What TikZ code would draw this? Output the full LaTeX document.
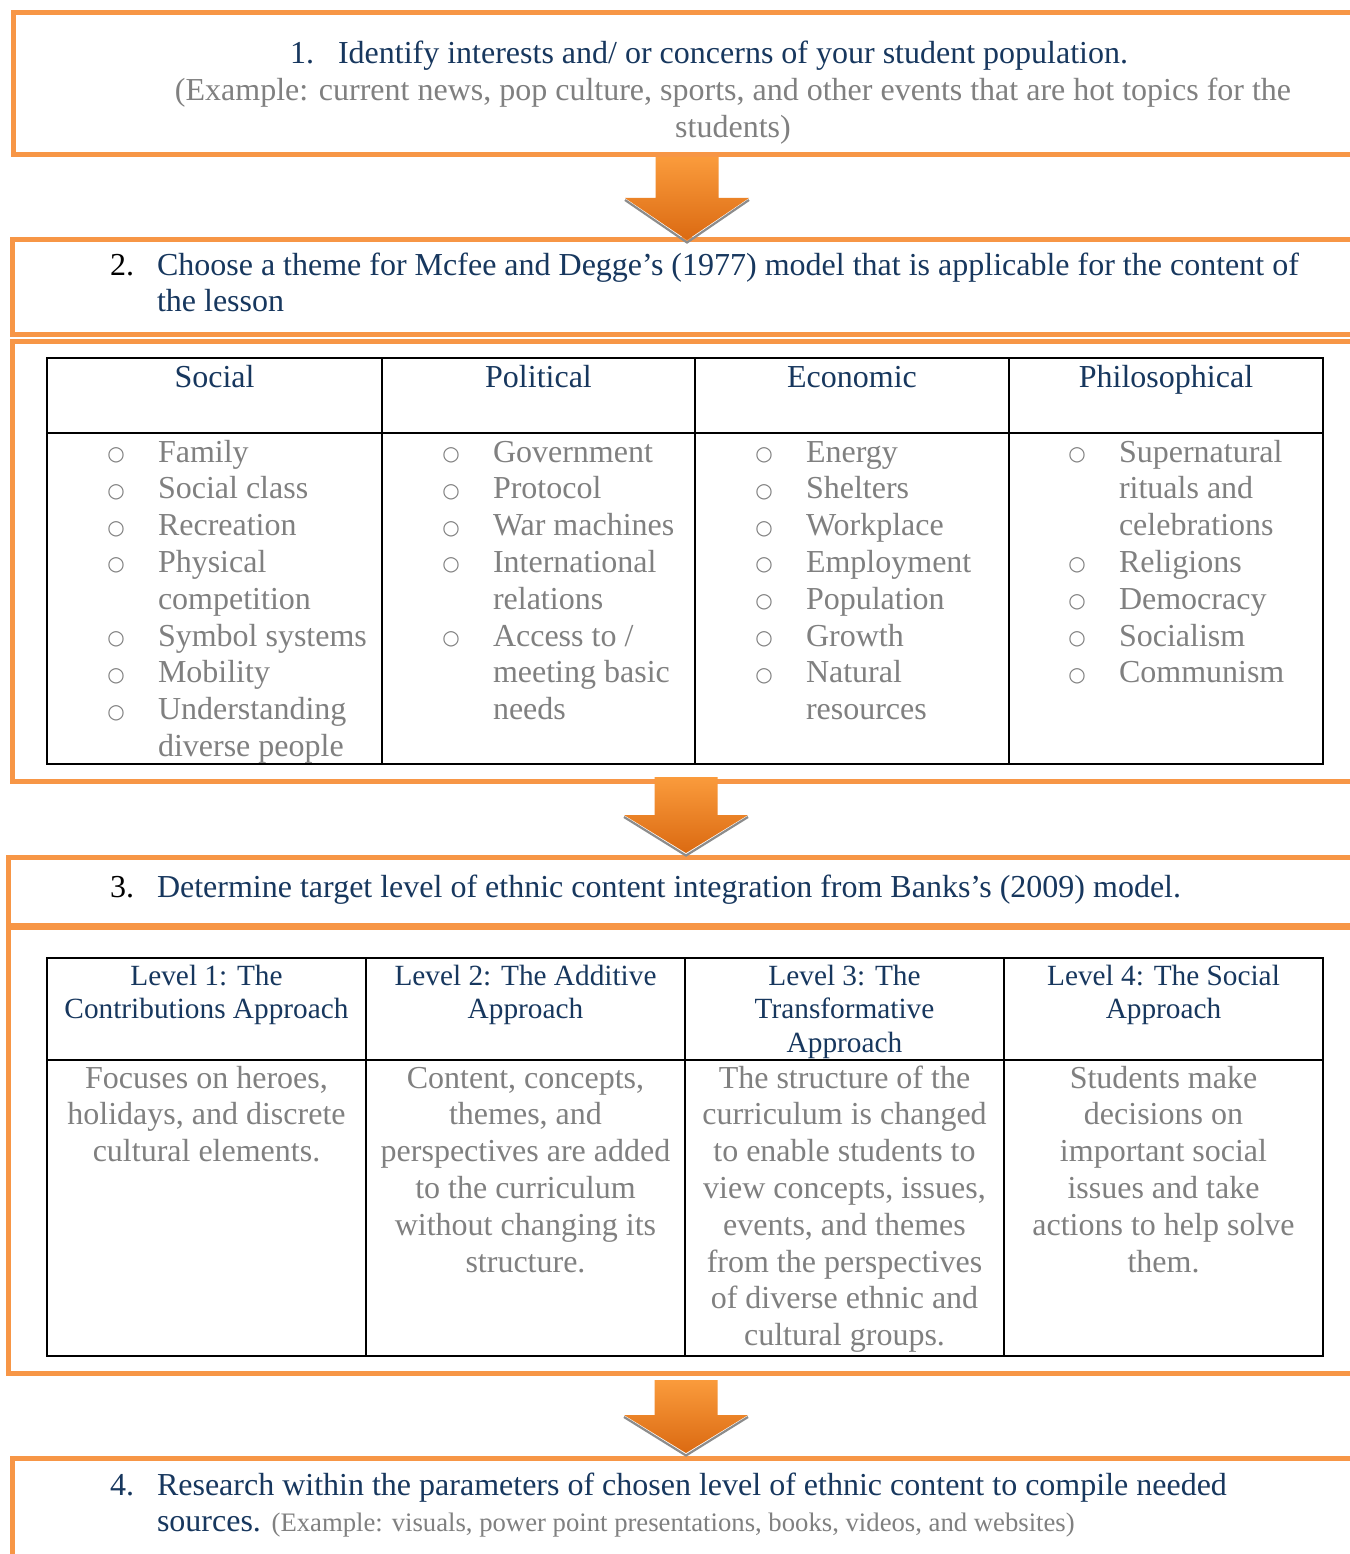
\documentclass[tikz,border=0pt]{standalone}
\usepackage{fontspec}
\setmainfont{Liberation Serif}
\newfontfamily\symfont{DejaVu Sans}
\usetikzlibrary{calc}
\definecolor{navy}{HTML}{17375E}
\definecolor{greytext}{HTML}{808080}
\definecolor{orangeline}{HTML}{F79646}
\definecolor{arrtop}{HTML}{FA9B3C}
\definecolor{arrbot}{HTML}{DB6A12}
\newcommand\bl{\makebox[19.2pt][c]{\raisebox{1.5pt}{\fontsize{20}{20}\selectfont\symfont ○}}}
\newcommand\blockarrow[3]{%
  \draw[arrshadow] ($(#1)+(-62,#2+2)$) -- ($(#3)+(0,2.5)$) -- ($(#1)+(62,#2+2)$);
  \shade[top color=arrtop, bottom color=arrbot]
    ($(#1)+(-31.5,0)$) -- ($(#1)+(31.5,0)$) -- ($(#1)+(31.5,#2)$) -- ($(#1)+(62,#2)$)
    -- (#3) -- ($(#1)+(-62,#2)$) -- ($(#1)+(-31.5,#2)$) -- cycle;}
\tikzset{
  frame/.style={draw=orangeline, line width=5pt},
  gridline/.style={draw=black, line width=2pt},
  arrshadow/.style={draw=black!45, line width=2.2pt},
  big/.style={font=\fontsize{32}{36.8}\selectfont, inner sep=0pt, outer sep=0pt},
  hdr/.style={font=\fontsize{29.3}{33.7}\selectfont, inner sep=0pt, outer sep=0pt, text=navy, anchor=base},
  bluetxt/.style={big, text=navy, anchor=base west},
  blacktxt/.style={big, text=black, anchor=base west},
  greyc/.style={big, text=greytext, anchor=base},
  navyc/.style={big, text=navy, anchor=base},
  listnode/.style={big, text=greytext, anchor=base west},
}
\begin{document}
\begin{tikzpicture}[x=1pt,y=-1pt]
\useasboundingbox (0,0) rectangle (1349,1554);
\fill[white] (0,0) rectangle (1349,1554);

% ---------- frames ----------
\draw[frame] (1365,12.5) -- (13,12.5) -- (13,154.5) -- (1365,154.5);
\draw[frame] (1365,240) -- (12,240) -- (12,334.5) -- (1365,334.5);
\draw[frame] (1365,341.5) -- (12,341.5) -- (12,781) -- (1365,781);
\draw[frame] (1365,857) -- (8.5,857) -- (8.5,925) -- (1365,925);
\draw[frame] (1365,927.5) -- (8.5,927.5) -- (8.5,1373) -- (1365,1373);
\draw[frame] (1365,1458) -- (12.5,1458) -- (12.5,1580);

% ---------- arrows ----------
\coordinate (b1out) at (687,157);
\coordinate (b2in) at (687,240);
\coordinate (b2out) at (686,777);
\coordinate (b3in) at (686,853);
\coordinate (b3out) at (686,1380);
\coordinate (b4in) at (686,1453);
\blockarrow{b1out}{41}{b2in}
\blockarrow{b2out}{38}{b3in}
\blockarrow{b3out}{35}{b4in}

% ---------- step 1 ----------
\node[bluetxt] (n1) at (290,64) {1.};
\node[bluetxt] (t1) at (338,64) {Identify interests and/ or concerns of your student population.};
\node[greyc] (e1) at (733,101) {\begin{tabular}[t]{@{}c@{}}(Example: current news, pop culture, sports, and other events that are hot topics for the\\ students)\end{tabular}};

% ---------- step 2 ----------
\node[blacktxt] (n2) at (110,275) {2.};
\node[bluetxt] (t2) at (157,275) {\begin{tabular}[t]{@{}l@{}}Choose a theme for Mcfee and Degge’s (1977) model that is applicable for the content of\\ the lesson\end{tabular}};

% table 1
\draw[gridline] (47,358) rectangle (1323,764);
\draw[gridline] (47,433) -- (1323,433);
\draw[gridline] (382,358) -- (382,764);
\draw[gridline] (695,358) -- (695,764);
\draw[gridline] (1009,358) -- (1009,764);

\node[navyc] (hsoc) at (214.5,387) {Social};
\node[navyc] (hpol) at (538.5,387) {Political};
\node[navyc] (heco) at (852,387) {Economic};
\node[navyc] (hphi) at (1166,387) {Philosophical};

\node[listnode] (lsoc) at (106.4,462) {\begin{tabular}[t]{@{}p{51.6pt}@{}l@{}}
\bl & Family\\ \bl & Social class\\ \bl & Recreation\\ \bl & Physical\\ & competition\\
\bl & Symbol systems\\ \bl & Mobility\\ \bl & Understanding\\ & diverse people\end{tabular}};
\node[listnode] (lpol) at (441.4,462) {\begin{tabular}[t]{@{}p{51.6pt}@{}l@{}}
\bl & Government\\ \bl & Protocol\\ \bl & War machines\\ \bl & International\\ & relations\\
\bl & Access to /\\ & meeting basic\\ & needs\end{tabular}};
\node[listnode] (leco) at (754.4,462) {\begin{tabular}[t]{@{}p{51.6pt}@{}l@{}}
\bl & Energy\\ \bl & Shelters\\ \bl & Workplace\\ \bl & Employment\\ \bl & Population\\
\bl & Growth\\ \bl & Natural\\ & resources\end{tabular}};
\node[listnode] (lphi) at (1067.4,462) {\begin{tabular}[t]{@{}p{51.6pt}@{}l@{}}
\bl & Supernatural\\ & rituals and\\ & celebrations\\ \bl & Religions\\ \bl & Democracy\\
\bl & Socialism\\ \bl & Communism\end{tabular}};

% ---------- step 3 ----------
\node[blacktxt] (n3) at (110,897) {3.};
\node[bluetxt] (t3) at (157,897) {Determine target level of ethnic content integration from Banks’s (2009) model.};

% table 2
\draw[gridline] (47,958) rectangle (1323,1356);
\draw[gridline] (47,1060) -- (1323,1060);
\draw[gridline] (366,958) -- (366,1356);
\draw[gridline] (685,958) -- (685,1356);
\draw[gridline] (1004,958) -- (1004,1356);

\node[hdr] (lv1) at (206.5,985) {\begin{tabular}[t]{@{}c@{}}Level 1: The\\ Contributions Approach\end{tabular}};
\node[hdr] (lv2) at (525.5,985) {\begin{tabular}[t]{@{}c@{}}Level 2: The Additive\\ Approach\end{tabular}};
\node[hdr] (lv3) at (844.5,985) {\begin{tabular}[t]{@{}c@{}}Level 3: The\\ Transformative\\ Approach\end{tabular}};
\node[hdr] (lv4) at (1163.5,985) {\begin{tabular}[t]{@{}c@{}}Level 4: The Social\\ Approach\end{tabular}};

\node[greyc] (d1) at (206.5,1088) {\begin{tabular}[t]{@{}c@{}}Focuses on heroes,\\ holidays, and discrete\\ cultural elements.\end{tabular}};
\node[greyc] (d2) at (525.5,1088) {\begin{tabular}[t]{@{}c@{}}Content, concepts,\\ themes, and\\ perspectives are added\\ to the curriculum\\ without changing its\\ structure.\end{tabular}};
\node[greyc] (d3) at (844.5,1088) {\begin{tabular}[t]{@{}c@{}}The structure of the\\ curriculum is changed\\ to enable students to\\ view concepts, issues,\\ events, and themes\\ from the perspectives\\ of diverse ethnic and\\ cultural groups.\end{tabular}};
\node[greyc] (d4) at (1163.5,1088) {\begin{tabular}[t]{@{}c@{}}Students make\\ decisions on\\ important social\\ issues and take\\ actions to help solve\\ them.\end{tabular}};

% ---------- step 4 ----------
\node[bluetxt] (n4) at (110,1495) {4.};
\node[bluetxt] (t4) at (157,1495) {\begin{tabular}[t]{@{}l@{}}Research within the parameters of chosen level of ethnic content to compile needed\\ sources. {\fontsize{26.7}{30}\selectfont\color{greytext}(Example: visuals, power point presentations, books, videos, and websites)}\end{tabular}};
\end{tikzpicture}
\end{document}
